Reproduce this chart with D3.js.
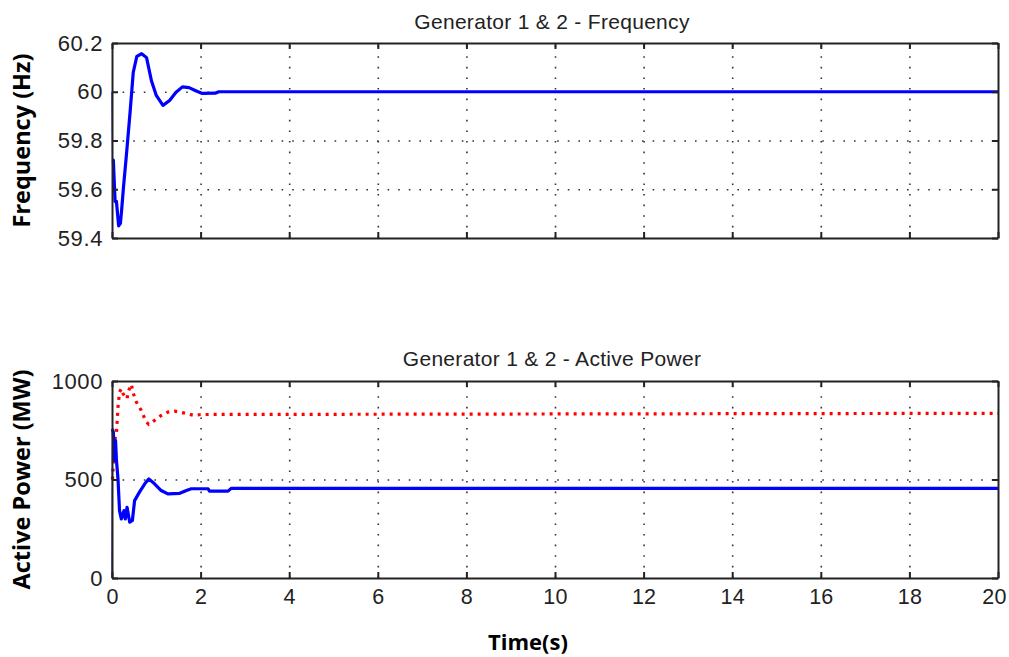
<!DOCTYPE html>
<html><head><meta charset="utf-8">
<script src="https://d3js.org/d3.v7.min.js"></script>
<style>
body{margin:0;background:#fff;}
svg{display:block;}
.tick text{font-family:"Liberation Sans",Arial,sans-serif;font-size:22px;letter-spacing:0.6px;fill:#222;}
.xaxis .tick text{font-size:21.5px;letter-spacing:0.2px;}
.title{font-family:"Liberation Sans",Arial,sans-serif;font-size:21px;letter-spacing:0.3px;fill:#222;}
.ylab,.xlab{font-family:"Open Sans",sans-serif;font-weight:bold;fill:#000;}
</style></head>
<body><svg id="c" width="1009" height="657"></svg>
<script>
// ---- data ----
const xTicks = [0,2,4,6,8,10,12,14,16,18,20];
const freqTicks = [59.4,59.6,59.8,60,60.2];
const freqTickLabels = ["59.4","59.6","59.8","60","60.2"];
const powerTicks = [0,500,1000];
const powerTickLabels = ["0","500","1000"];

const freqTime = [0,0.01,0.03,0.07,0.1,0.15,0.19,0.22,0.26,0.33,0.41,0.48,0.56,0.67,0.78,0.89,1.0,1.15,1.3,1.44,1.59,1.74,1.89,2.04,2.33,2.41,20];
const freqValue = [60,59.72,59.72,59.55,59.55,59.45,59.46,59.52,59.61,59.75,59.92,60.08,60.145,60.156,60.14,60.045,59.985,59.944,59.964,59.997,60.02,60.017,60.004,59.993,59.994,60.0,60.0];

const gen1Time = [0,0.01,0.03,0.06,0.08,0.1,0.135,0.17,0.21,0.27,0.3,0.34,0.4,0.46,0.51,0.62,0.74,0.83,0.96,1.11,1.26,1.53,1.68,1.79,2.17,2.2,2.62,2.69,20];
const gen1Power = [0,757,740,597,698,600,503,342,300,342,300,359,283,292,393,436,478,503,478,444,427,430,444,453,453,441,441,455,455];

const gen2Time = [0.01,0.03,0.06,0.1,0.135,0.17,0.21,0.25,0.3,0.34,0.36,0.44,0.47,0.55,0.66,0.77,0.83,0.96,1.11,1.26,1.41,1.64,1.86,2.0,20];
const gen2Power = [500,570,700,732,868,944,961,936,919,910,944,983,944,893,851,792,780,800,825,842,847,837,825,830,836];

// ---- layout ----
const svg = d3.select("#c");
const L = 112, R = 998;
const panels = [
  {top:43, bottom:238, domain:[59.4,60.2], ticks:freqTicks, labels:freqTickLabels, title:"Generator 1 & 2 - Frequency", ylab:"Frequency (Hz)", xlabels:false, titleY:29},
  {top:381, bottom:578, domain:[0,1000], ticks:powerTicks, labels:powerTickLabels, title:"Generator 1 & 2 - Active Power", ylab:"Active Power (MW)", xlabels:true, titleY:366}
];
const x = d3.scaleLinear().domain([0,20]).range([L,R]);

panels.forEach((p,i)=>{
  const y = d3.scaleLinear().domain(p.domain).range([p.bottom,p.top]);
  p.y = y;
  const g = svg.append("g");
  const H = p.bottom - p.top, W = R - L;
  const gx = g.append("g").attr("transform",`translate(0,${p.bottom})`)
    .call(d3.axisBottom(x).tickValues(xTicks.slice(1,-1)).tickSize(-H).tickFormat(""));
  const gy = g.append("g").attr("transform",`translate(${L},0)`)
    .call(d3.axisLeft(y).tickValues(p.ticks.slice(1,-1)).tickSize(-W).tickFormat(""));
  [gx,gy].forEach(a=>{a.select(".domain").remove();
    a.selectAll("line").attr("stroke","#333").attr("stroke-width",1.6).attr("stroke-dasharray","1.6,9");});
  p.g = g;
});

const lineF = d3.line().x(d=>x(d[0])).y(d=>panels[0].y(d[1]));
const lineP = d3.line().x(d=>x(d[0])).y(d=>panels[1].y(d[1]));
const fPts = freqTime.map((t,i)=>[t,freqValue[i]]);
const g1Pts = gen1Time.map((t,i)=>[t,gen1Power[i]]);
const g2Pts = gen2Time.map((t,i)=>[t,gen2Power[i]]);

panels[0].g.append("path").attr("d",lineF(fPts.slice(0,2))).attr("fill","none").attr("stroke","#0000ff").attr("stroke-width",1.2);
panels[0].g.append("path").attr("d",lineF(fPts.slice(1))).attr("fill","none").attr("stroke","#0000ff").attr("stroke-width",3.2).attr("stroke-linejoin","round");

panels[1].g.append("path").attr("d",lineP(g2Pts)).attr("fill","none").attr("stroke","#ff0000").attr("stroke-width",3.2).attr("stroke-dasharray","3,5");
panels[1].g.append("path").attr("d",lineP(g1Pts.slice(0,2))).attr("fill","none").attr("stroke","#0000ff").attr("stroke-width",1.2);
panels[1].g.append("path").attr("d",lineP(g1Pts.slice(1))).attr("fill","none").attr("stroke","#0000ff").attr("stroke-width",3.2).attr("stroke-linejoin","round");

panels.forEach(p=>{
  const g = p.g, y = p.y;
  const ab = g.append("g").attr("class","xaxis").attr("transform",`translate(0,${p.bottom})`)
    .call(d3.axisBottom(x).tickValues(xTicks).tickSizeInner(-6).tickSizeOuter(0).tickPadding(11)
      .tickFormat(p.xlabels ? d3.format("d") : ""));
  ab.selectAll(".tick text").filter(d=>d===20).attr("dx",-4);
  const at = g.append("g").attr("transform",`translate(0,${p.top})`)
    .call(d3.axisTop(x).tickValues(xTicks).tickSizeInner(-6).tickSizeOuter(0).tickFormat(""));
  const al = g.append("g").attr("transform",`translate(${L},0)`)
    .call(d3.axisLeft(y).tickValues(p.ticks).tickSizeInner(-6).tickSizeOuter(0).tickPadding(9)
      .tickFormat((d,i)=>p.labels[i]));
  const ar = g.append("g").attr("transform",`translate(${R},0)`)
    .call(d3.axisRight(y).tickValues(p.ticks).tickSizeInner(-6).tickSizeOuter(0).tickFormat(""));
  [ab,at,al,ar].forEach(a=>{a.select(".domain").attr("stroke","#222").attr("stroke-width",2);
    a.selectAll(".tick line").attr("stroke","#222").attr("stroke-width",2);});
  g.append("text").attr("class","title").attr("x",552).attr("y",p.titleY).attr("text-anchor","middle").text(p.title);
  g.append("text").attr("class","ylab").attr("font-size",23.5)
    .attr("transform",`translate(30,${(p.top+p.bottom)/2}) rotate(-90)`).attr("text-anchor","middle").text(p.ylab);
});
svg.append("text").attr("class","xlab").attr("font-size",22).attr("x",528).attr("y",650).attr("text-anchor","middle").text("Time(s)");
</script></body></html>
